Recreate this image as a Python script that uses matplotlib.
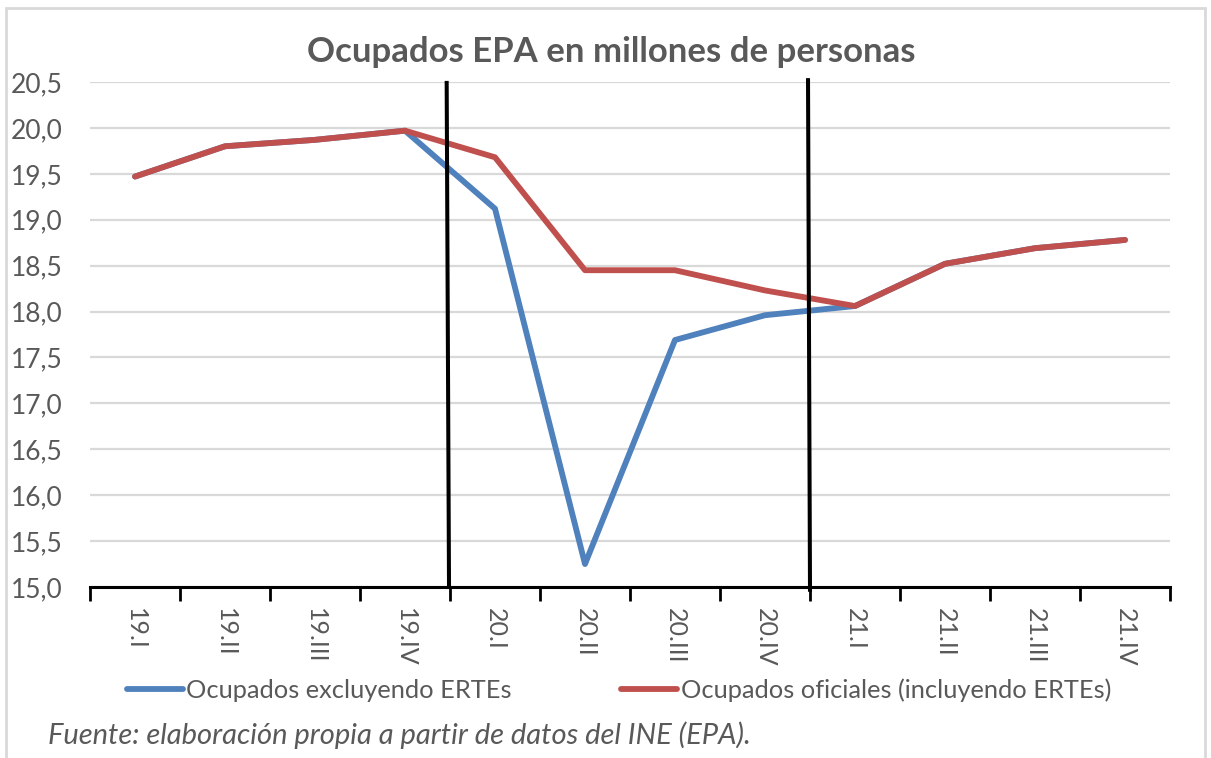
import matplotlib
matplotlib.use("Agg")
import matplotlib.pyplot as plt
from matplotlib.ticker import FixedLocator, FuncFormatter
from matplotlib.patches import Rectangle

plt.rcParams['font.family'] = ['Lato', 'DejaVu Sans']

# quarters
quarters = ['19.I', '19.II', '19.III', '19.IV', '20.I', '20.II',
            '20.III', '20.IV', '21.I', '21.II', '21.III', '21.IV']

# millions of people
excl_ertes = [19.47, 19.80, 19.87, 19.97, 19.12, 15.25,
              17.69, 17.96, 18.06, 18.52, 18.69, 18.78]
oficiales = [19.47, 19.80, 19.87, 19.97, 19.68, 18.45,
             18.45, 18.23, 18.06, 18.52, 18.69, 18.78]

# hand-drawn separators (x_top, y_top, x_bottom, y_bottom)
separators = [(3.463, 20.49, 3.489, 15.0),
              (7.478, 20.52, 7.50, 14.97)]

grey = '#595959'
blue = '#4F81BD'
red = '#C0504D'

fig = plt.figure(figsize=(12.11, 7.58), dpi=100)
ax = fig.add_axes([90/1211, 1 - 587/758, 1080/1211, 505/758])

x = list(range(len(quarters)))
ax.plot(x, excl_ertes, color=blue, lw=4.2, solid_capstyle='round',
        solid_joinstyle='round', label='Ocupados excluyendo ERTEs', zorder=3)
ax.plot(x, oficiales, color=red, lw=4.2, solid_capstyle='round',
        solid_joinstyle='round', label='Ocupados oficiales (incluyendo ERTEs)', zorder=4)

for xt, yt, xb, yb in separators:
    ax.plot([xt, xb], [yt, yb], color='black', lw=2.9, clip_on=False, zorder=5)

ax.set_xlim(-0.5, len(quarters) - 0.5)
ax.set_ylim(15.0, 20.5)
ax.set_yticks([15.0 + 0.5 * i for i in range(12)])
ax.yaxis.set_major_formatter(FuncFormatter(lambda v, p: f'{v:.1f}'.replace('.', ',')))
ax.grid(axis='y', color='#D9D9D9', lw=1.6)
ax.set_axisbelow(True)

ax.xaxis.set_major_locator(FixedLocator([i - 0.5 for i in range(len(quarters) + 1)]))
ax.xaxis.set_major_formatter(FuncFormatter(lambda v, p: ''))
ax.set_xticks(x, quarters, minor=True)
ax.tick_params(axis='x', which='major', length=10, width=2, color='black', direction='out')
ax.tick_params(axis='x', which='minor', length=0, labelsize=18, labelcolor=grey,
               rotation=270, pad=15)
ax.tick_params(axis='y', length=0, labelsize=19, labelcolor=grey, pad=20)

for s in ['top', 'right', 'left']:
    ax.spines[s].set_visible(False)
ax.spines['bottom'].set_linewidth(2.2)
ax.spines['bottom'].set_color('black')

fig.text(611/1211, 1 - 52/758, 'Ocupados EPA en millones de personas', ha='center',
         va='center', fontsize=25, fontweight='bold', color=grey)

leg = fig.legend(loc='center', bbox_to_anchor=(619/1211, 1 - 690/758), ncol=2,
                 frameon=False, fontsize=18.3, handlelength=2.2, handletextpad=0.15,
                 columnspacing=4.3, labelcolor=grey)
for h in leg.legend_handles:
    h.set_linewidth(4.2)

fig.text(48/1211, 1 - 735/758, 'Fuente: elaboración propia a partir de datos del INE (EPA).',
         ha='left', va='center', fontsize=21, style='italic', color=grey)

fig.patches.append(Rectangle((6/1211, -0.1), 1199/1211, 1.1 - 8/758, transform=fig.transFigure,
                             fill=False, edgecolor='#D9D9D9', lw=2))

fig.savefig('out.png', dpi=100)
